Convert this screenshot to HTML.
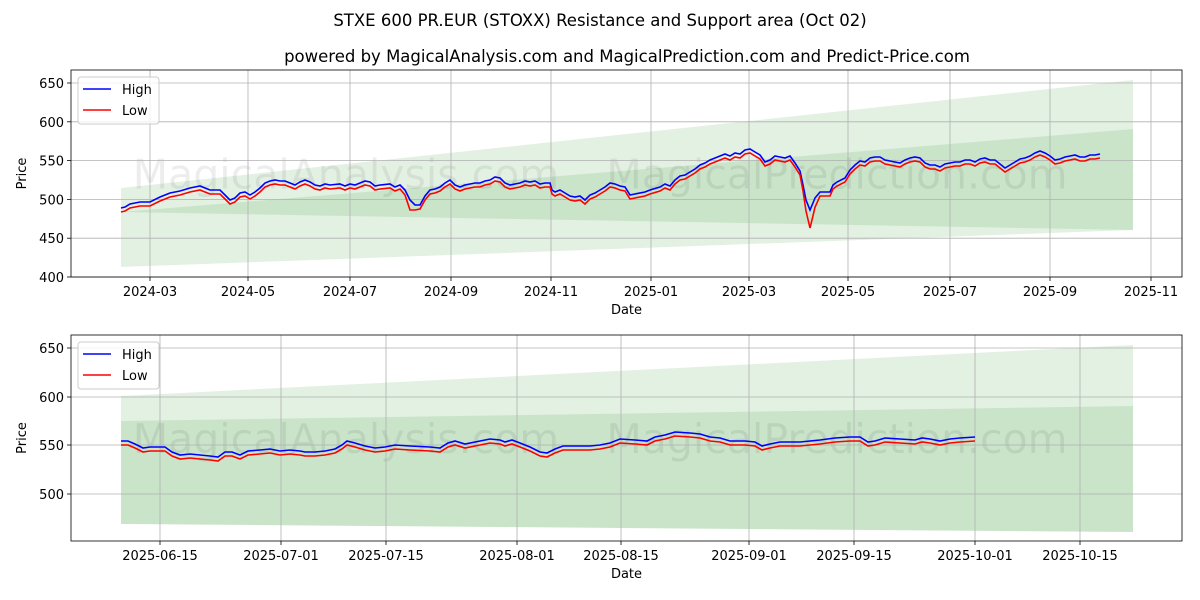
<!DOCTYPE html>
<html><head><meta charset="utf-8"><style>
html,body{margin:0;padding:0;background:#fff;}
svg{display:block;font-family:"DejaVu Sans","Liberation Sans",sans-serif;}
</style></head><body>
<svg id="s" width="1200" height="600" xmlns="http://www.w3.org/2000/svg">
<rect width="1200" height="600" fill="#fff"/>
<text x="600" y="26" font-size="16.5" text-anchor="middle">STXE 600 PR.EUR (STOXX) Resistance and Support area (Oct 02)</text>
<text x="627" y="62" font-size="16.5" text-anchor="middle">powered by MagicalAnalysis.com and MagicalPrediction.com and Predict-Price.com</text>
<g id="top"></g><g id="bot"></g>
</svg>
<script>
const NS="http://www.w3.org/2000/svg";
function el(p,t,a,txt){const e=document.createElementNS(NS,t);for(const k in a)e.setAttribute(k,a[k]);if(txt!==undefined)e.textContent=txt;p.appendChild(e);return e;}
function pts(a){return a.map(p=>p[0]+","+p[1]).join(" ");}
function chart(g,L,T,R,B,yt,xt,bands,hi,loOff,dips){
 el(g,"rect",{x:L,y:T,width:R-L,height:B-T,fill:"#fff"});
 bands.forEach(b=>el(g,"polygon",{points:pts(b),fill:"#008000","fill-opacity":0.11}));
 el(g,"text",{x:346,y:(T+B)/2+15,"font-size":41,fill:"#000","fill-opacity":0.07,"text-anchor":"middle"},"MagicalAnalysis.com");
 el(g,"text",{x:837,y:(T+B)/2+15,"font-size":41,fill:"#000","fill-opacity":0.07,"text-anchor":"middle"},"MagicalPrediction.com");
 yt.forEach(t=>{el(g,"line",{x1:L,x2:R,y1:t[1],y2:t[1],stroke:"#b0b0b0","stroke-width":0.8});
  el(g,"line",{x1:L-4,x2:L,y1:t[1],y2:t[1],stroke:"#000","stroke-width":0.8});
  el(g,"text",{x:L-7,y:t[1]+5,"font-size":13,"text-anchor":"end"},t[0]);});
 xt.forEach(t=>{el(g,"line",{x1:t[1],x2:t[1],y1:T,y2:B,stroke:"#b0b0b0","stroke-width":0.8});
  el(g,"line",{x1:t[1],x2:t[1],y1:B,y2:B+4,stroke:"#000","stroke-width":0.8});
  el(g,"text",{x:t[1],y:B+19,"font-size":13,"text-anchor":"middle"},t[0]);});
 const lo=hi.map(p=>{let d=loOff;dips.forEach(q=>{if(Math.abs(p[0]-q[0])<q[2])d+=q[1]*(1-Math.abs(p[0]-q[0])/q[2]);});return [p[0],p[1]+d];});
 el(g,"polyline",{points:pts(hi),fill:"none",stroke:"#0000ff","stroke-width":1.6});
 el(g,"polyline",{points:pts(lo),fill:"none",stroke:"#ff0000","stroke-width":1.6});
 el(g,"rect",{x:L,y:T,width:R-L,height:B-T,fill:"none",stroke:"#000","stroke-width":0.8});
 el(g,"rect",{x:L+7,y:T+7,width:81,height:47,rx:3,fill:"#fff","fill-opacity":0.8,stroke:"#ccc"});
 el(g,"line",{x1:L+12,x2:L+40,y1:T+19,y2:T+19,stroke:"#0000ff","stroke-width":1.6});
 el(g,"line",{x1:L+12,x2:L+40,y1:T+40,y2:T+40,stroke:"#ff0000","stroke-width":1.6});
 el(g,"text",{x:L+51,y:T+24,"font-size":13},"High");
 el(g,"text",{x:L+51,y:T+45,"font-size":13},"Low");
 el(g,"text",{x:(L+R)/2,y:B+37,"font-size":13,"text-anchor":"middle"},"Date");
 el(g,"text",{x:0,y:0,"font-size":13,"text-anchor":"middle",transform:`translate(26,${(T+B)/2}) rotate(-90)`},"Price");
}
const hiTop=[[121,208],[125,207],[130,204],[135,203],[140,202],[150,202],[160,197],[170,193],[180,191],[190,188],[200,186],[205,188],[210,190],[220,190],[225,195],[230,200],[235,198],[240,193],[245,192],[250,195],[255,192],[260,188],[265,183],[270,181],[275,180],[280,181],[285,181],[290,183],[295,185],[300,182],[305,180],[310,182],[315,185],[320,186],[325,184],[330,185],[340,184],[345,186],[350,184],[355,185],[360,183],[365,181],[370,182],[375,186],[380,185],[390,184],[395,187],[400,185],[405,190],[410,200],[415,205],[420,205],[425,196],[430,190],[435,189],[440,187],[445,183],[450,180],[455,185],[460,187],[465,185],[470,184],[475,183],[480,183],[485,181],[490,180],[495,177],[500,178],[505,183],[510,185],[515,184],[520,183],[525,181],[530,182],[535,181],[540,184],[545,183],[550,183],[552,190],[555,192],[560,190],[565,193],[570,196],[575,197],[580,196],[585,200],[590,195],[595,193],[600,190],[605,187],[610,183],[615,184],[620,186],[625,187],[630,195],[635,194],[645,192],[650,190],[660,187],[665,184],[670,186],[675,180],[680,176],[685,175],[690,172],[695,169],[700,165],[705,163],[710,160],[715,158],[720,156],[725,154],[730,156],[735,153],[740,154],[745,150],[750,149],[755,152],[760,155],[765,162],[770,160],[775,156],[780,157],[785,158],[790,156],[795,163],[800,171],[803,185],[806,200],[810,210],[813,203],[815,198],[820,192],[825,192],[830,192],[833,185],[837,182],[845,178],[850,170],[855,165],[860,161],[865,162],[870,158],[875,157],[880,157],[885,160],[890,161],[895,162],[900,163],[905,160],[910,158],[915,157],[920,158],[925,163],[930,165],[935,165],[940,167],[945,164],[950,163],[955,162],[960,162],[965,160],[970,160],[975,162],[980,159],[985,158],[990,160],[995,160],[1000,164],[1005,168],[1010,165],[1015,162],[1020,159],[1025,158],[1030,156],[1035,153],[1040,151],[1045,153],[1050,156],[1055,160],[1060,159],[1065,157],[1070,156],[1075,155],[1080,157],[1085,157],[1090,155],[1095,155],[1100,154]];
chart(document.getElementById("top"),71,70,1182,277,
 [["400",277],["450",238.2],["500",199.4],["550",160.6],["600",121.8],["650",83]],
 [["2024-03",150],["2024-05",248],["2024-07",350],["2024-09",451],["2024-11",551],["2025-01",651],["2025-03",749],["2025-05",848],["2025-07",950],["2025-09",1050],["2025-11",1151]],
 [[[121,188],[1133,80],[1133,230],[121,212]],[[121,212],[1133,129],[1133,230],[121,267]]],
 hiTop,4,[[810,14,8],[410,6,6]]);
const hiBot=[[121,441],[128,441],[135,444],[143,448],[150,447],[165,447],[172,452],[180,455],[190,454],[200,455],[210,456],[218,457],[225,452],[232,452],[240,455],[248,451],[260,450],[270,449],[280,451],[290,450],[300,451],[305,452],[315,452],[325,451],[335,449],[342,445],[347,441],[355,443],[365,446],[375,448],[385,447],[395,445],[410,446],[430,447],[440,448],[448,443],[455,441],[465,444],[480,441],[490,439],[500,440],[505,442],[512,440],[520,443],[530,447],[540,452],[547,453],[555,449],[563,446],[575,446],[590,446],[600,445],[610,443],[620,439],[635,440],[647,441],[655,437],[665,435],[675,432],[690,433],[700,434],[710,437],[720,438],[730,441],[745,441],[755,442],[762,446],[770,444],[780,442],[800,442],[810,441],[820,440],[835,438],[850,437],[860,437],[868,442],[875,441],[885,438],[900,439],[915,440],[922,438],[930,439],[940,441],[950,439],[960,438],[975,437]];
chart(document.getElementById("bot"),71,335,1182,541,
 [["500",494],["550",445],["600",397],["650",348]],
 [["2025-06-15",160],["2025-07-01",281],["2025-07-15",386],["2025-08-01",517],["2025-08-15",621],["2025-09-01",749],["2025-09-15",854],["2025-10-01",975],["2025-10-15",1080]],
 [[[121,396],[1133,345],[1133,532],[121,524]],[[121,421],[1133,406],[1133,532],[121,524]]],
 hiBot,4,[]);
</script>
</body></html>
